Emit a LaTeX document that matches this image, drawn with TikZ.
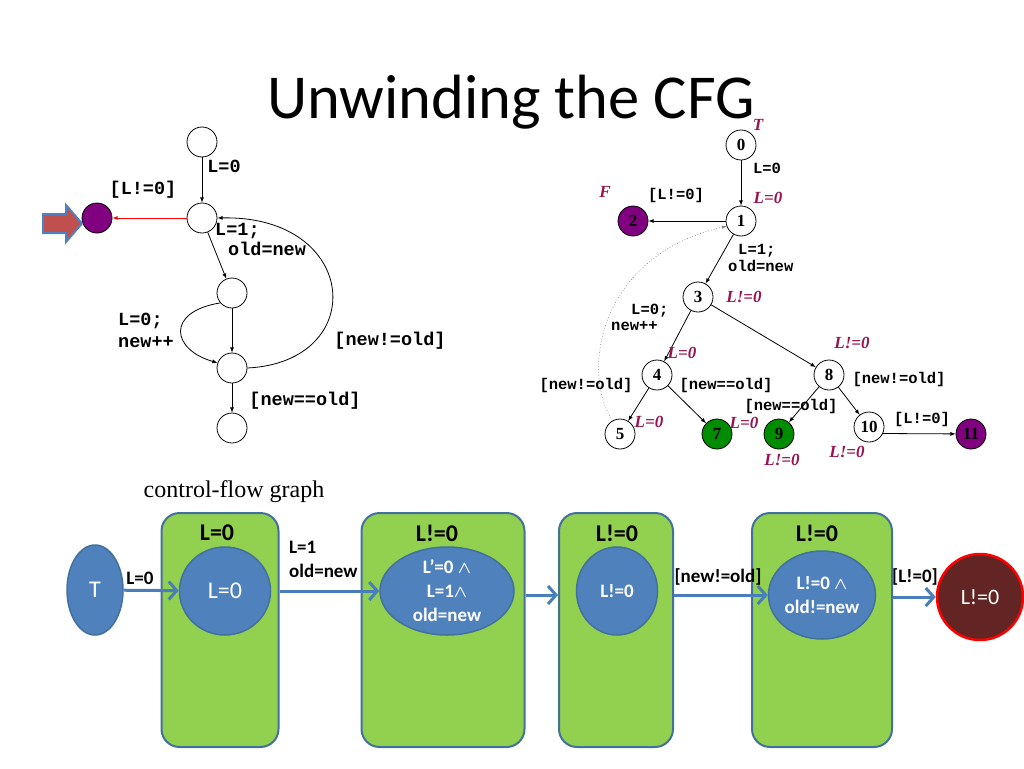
\documentclass[tikz,border=0pt]{standalone}
\usepackage{fontspec}
\setmainfont{Carlito}
\newfontfamily\codefont{Liberation Mono}
\newfontfamily\timesfont{Liberation Serif}
\usetikzlibrary{arrows, arrows.meta, shapes.geometric, positioning}

\definecolor{boxgreen}{RGB}{146,208,80}
\definecolor{boxblue}{RGB}{65,113,156}
\definecolor{fillblue}{RGB}{79,129,189}
\definecolor{flowblue}{RGB}{74,126,187}
\definecolor{predred}{RGB}{150,20,80}
\definecolor{errfill}{RGB}{99,37,35}
\definecolor{purp}{RGB}{128,0,128}
\definecolor{okgreen}{RGB}{0,140,0}
\definecolor{blockred}{RGB}{192,80,77}

\begin{document}
\begin{tikzpicture}[
            x=1pt, y=-1pt,
            every node/.style={inner sep=0pt},
            cfg/.style={circle, draw, line width=0.8pt, minimum size=30pt},
            num/.style={circle, draw, line width=0.8pt, minimum size=30pt,
                font=\timesfont\bfseries\fontsize{17}{17}\selectfont},
            code/.style={font=\codefont\bfseries\fontsize{18.5}{22}\selectfont},
            smallcode/.style={font=\codefont\bfseries\fontsize{15.5}{17}\selectfont},
            pred/.style={text=predred, font=\timesfont\bfseries\itshape\fontsize{17}{17}\selectfont},
            cfgarrow/.style={-latex, line width=0.8pt},
            levelbox/.style={draw=boxblue, fill=boxgreen, line width=2pt, rounded corners=18pt,
                minimum height=234},
            region/.style={ellipse, draw=boxblue, fill=fillblue, line width=1.5pt, text=white},
            headtext/.style={font=\bfseries\fontsize{24}{24}\selectfont},
            boldtext/.style={font=\bfseries\boldmath\fontsize{19}{24}\selectfont, align=center},
            flow/.style={draw=flowblue, line width=3pt, -{Straight Barb[length=8pt, width=18pt]}}
        ]
        \useasboundingbox (0,0) rectangle (1024,768);

        \node[anchor=base] (title) at (511,118) {\fontsize{62.5}{68}\selectfont Unwinding the CFG};

        % control-flow graph
        \node[cfg] (a1) at (202,142) {};
        \node[cfg] (a2) at (202,218) {};
        \node[cfg] (a3) at (232,293) {};
        \node[cfg] (a4) at (232,368) {};
        \node[cfg] (a5) at (232,428) {};
        \node[cfg, fill=purp] (aerr) at (97,218) {};
        \fill[blockred, draw=fillblue, line width=2pt]
            (43,214) -- (66,214) -- (66,205) -- (82,223.5) -- (66,242) -- (66,233) -- (43,233) -- cycle;

        \draw[cfgarrow] (a1) -- (a2);
        \draw[cfgarrow, red] (a2) -- (aerr);
        \draw[cfgarrow] (a2) -- (a3);
        \draw[cfgarrow] (a3) -- (a4);
        \draw[cfgarrow] (a3.220) .. controls (165,312) and (172,350) .. (a4.160);
        \draw[cfgarrow] (a4.east) .. controls (370,362) and (360,215) .. (a2.east);
        \draw[cfgarrow] (a4) -- (a5);

        \node[code] (aL0) at (224,166) {L=0};
        \node[code] (aLne) at (143,190) {[L!=0]};
        \node[code, anchor=west] (aL1) at (215,231) {L=1;};
        \node[code, anchor=west] (aold) at (228,249) {old=new};
        \node[code, anchor=west, align=left] (anew) at (118,330) {L=0;\\new++};
        \node[code] (ane) at (390,341) {[new!=old]};
        \node[code] (aeq) at (305,401) {[new==old]};
        \node[font=\timesfont\fontsize{24}{28}\selectfont] (caption) at (234,492) {control-flow graph};

        % unwound tree
        \node[num] (n0) at (741,145) {0};
        \node[num] (n1) at (741,221) {1};
        \node[num, fill=purp] (n2) at (633,221) {2};
        \node[num] (n3) at (698,297) {3};
        \node[num] (n4) at (657,375) {4};
        \node[num] (n8) at (829,375) {8};
        \node[num] (n5) at (620,434) {5};
        \node[num, fill=okgreen] (n7) at (717,434) {7};
        \node[num, fill=okgreen] (n9) at (779,434) {9};
        \node[num] (n10) at (869,427) {10};
        \node[num, fill=purp] (n11) at (971,434) {11};

        \foreach \a/\b in {n0/n1, n1/n2, n1/n3, n3/n4, n3/n8, n4/n5, n4/n7, n8/n9, n8/n10}
            \draw[cfgarrow] (\a) -- (\b);
        \draw[cfgarrow] (n10.-25) -- (n11);
        \draw[cfgarrow, dotted, gray, line width=0.6pt] (n5.120) .. controls (580,370) and (600,255) .. (n1.200);

        \node[pred] (pT) at (758,125) {T};
        \node[smallcode] (tL0) at (767,168) {L=0};
        \node[pred] (pF) at (605,192) {F};
        \node[smallcode] (tLne) at (676,195) {[L!=0]};
        \node[pred] (p1) at (768,198) {L=0};
        \node[smallcode, anchor=west] (tL1) at (738,251) {L=1;};
        \node[smallcode, anchor=west] (told) at (728,266) {old=new};
        \node[pred] (p3) at (744,297) {L!=0};
        \node[smallcode, anchor=west] (tLz) at (631,311) {L=0;};
        \node[smallcode, anchor=west] (tnew) at (611,326) {new++};
        \node[pred] (p8) at (852,343) {L!=0};
        \node[pred] (p4) at (682,353) {L=0};
        \node[smallcode] (tne4) at (586,385) {[new!=old]};
        \node[smallcode] (teq4) at (726,385) {[new==old]};
        \node[smallcode] (tne8) at (899,379) {[new!=old]};
        \node[smallcode] (teq8) at (791,406) {[new==old]};
        \node[pred] (p5) at (649,422) {L=0};
        \node[pred] (p7) at (744,423) {L=0};
        \node[smallcode] (tLne10) at (922,419) {[L!=0]};
        \node[pred] (p9) at (782,460) {L!=0};
        \node[pred] (p10) at (847,452) {L!=0};

        % abstract states
        \node[levelbox, minimum width=117] (box1) at (220,630) {};
        \node[levelbox, minimum width=163] (box2) at (443,630) {};
        \node[levelbox, minimum width=114] (box3) at (616,630) {};
        \node[levelbox, minimum width=140] (box4) at (822,630) {};
        \node[headtext] (h1) at (217,533) {L=0};
        \node[headtext] (h2) at (437,533) {L!=0};
        \node[headtext] (h3) at (617,533) {L!=0};
        \node[headtext] (h4) at (817,533) {L!=0};

        \node[region, minimum width=56, minimum height=90, font=\fontsize{24}{24}\selectfont] (sT) at (95,590) {T};
        \node[region, minimum width=91, minimum height=88, font=\fontsize{24}{24}\selectfont] (s1) at (225,591) {L=0};
        \node[region, minimum width=134, minimum height=88, inner sep=-4pt, boldtext] (s2) at (447,591) {L'=0 $\wedge$\\L=1$\wedge$\\old=new};
        \node[region, minimum width=81, minimum height=88, boldtext] (s3) at (617,591) {L!=0};
        \node[region, minimum width=107, minimum height=88, boldtext] (s4) at (822,595) {L!=0 $\wedge$\\old!=new};
        \node[circle, draw=red, fill=errfill, line width=2.5pt, minimum size=86, text=white,
            font=\fontsize{22}{22}\selectfont] (serr) at (980,597) {L!=0};

        \draw[flow] (sT) -- (s1);
        \draw[flow] (box1.east |- s2.west) -- (s2.west);
        \draw[flow] (box2.east |- s4.west) -- (box3.west |- s4.west);
        \draw[flow] (box3.east |- s4.west) -- (s4.west);
        \draw[flow] (box4.east |- serr.west) -- (serr.west);

        \node[boldtext] (fL0) at (140,578) {L=0};
        \node[boldtext, anchor=west, align=left] (fL1) at (289,559) {L=1\\old=new};
        \node[boldtext] (fne) at (718,577) {[new!=old]};
        \node[boldtext] (fLne) at (915,577) {[L!=0]};
    \end{tikzpicture}
\end{document}
